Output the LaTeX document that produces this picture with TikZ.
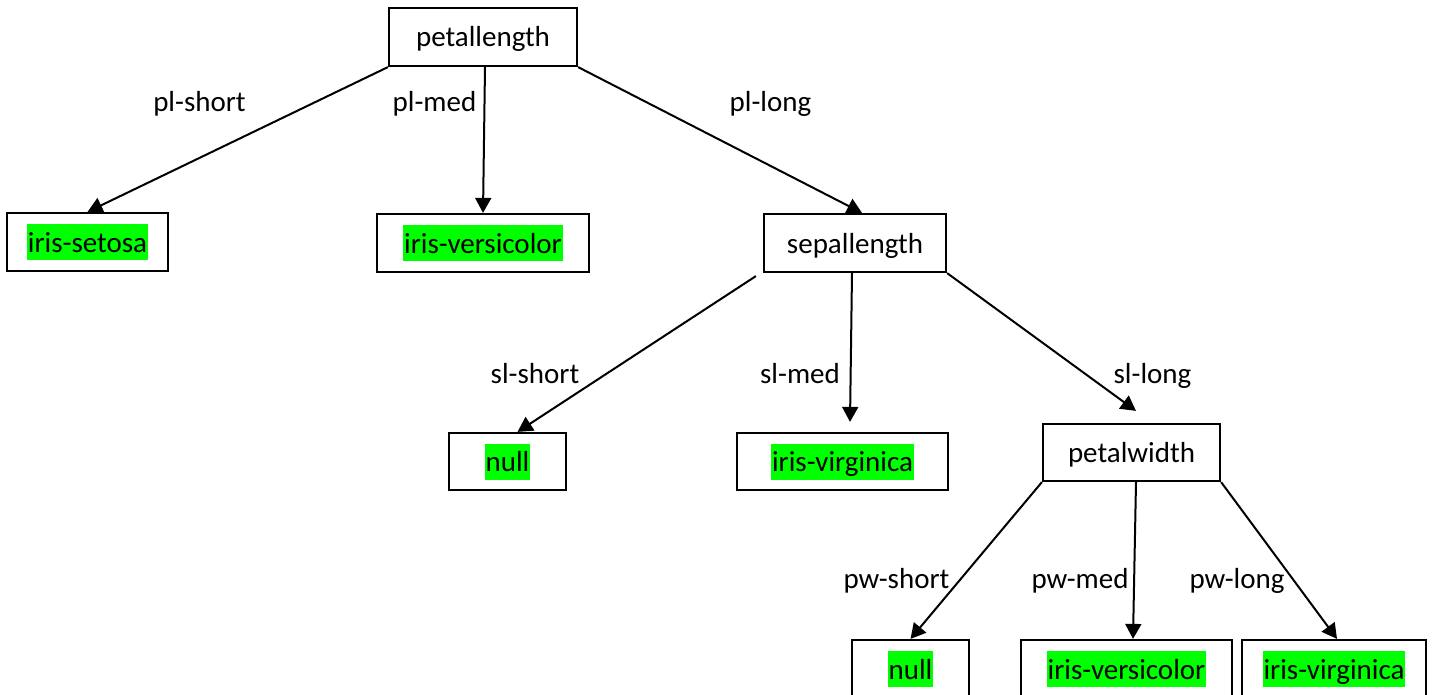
\documentclass[tikz,border=0pt]{standalone}
\usepackage{fontspec}
\setmainfont{Carlito}
\usepackage{xcolor}
\usetikzlibrary{arrows.meta}
\definecolor{hlgreen}{RGB}{0,255,0}
\newcommand{\nstrut}{\rule[-8pt]{0pt}{36pt}}
\newcommand{\hl}[1]{{\setlength{\fboxsep}{1pt}\colorbox{hlgreen}{\rule[-7pt]{0pt}{34pt}#1}}}

\begin{document}
\begin{tikzpicture}[x=1pt,y=-1pt,>={Triangle[length=15pt,width=16pt]},
    font=\fontsize{29pt}{34pt}\selectfont,
    box/.style={draw,line width=2.2pt,inner sep=0pt,minimum height=58pt},
    lbl/.style={anchor=base,inner sep=0pt},
    edge/.style={->,line width=2pt}]
        \useasboundingbox (0,0) rectangle (1435,695);

        % attribute and leaf boxes
        \node[box,minimum width=188pt] (pl) at (483,37) {\nstrut petallength};
        \node[box,minimum width=161pt] (set) at (87.5,242) {\hl{iris-setosa}};
        \node[box,minimum width=212pt] (vc1) at (483,243) {\hl{iris-versicolor}};
        \node[box,minimum width=182pt] (sep) at (855,243) {\nstrut sepallength};
        \node[box,minimum width=117pt,minimum height=57pt] (nul1) at (507.5,461.5) {\hl{null}};
        \node[box,minimum width=211pt,minimum height=57pt] (vir1) at (842.5,461.5) {\hl{iris-virginica}};
        \node[box,minimum width=177pt,minimum height=57pt] (pw) at (1131.5,452.5) {\nstrut petalwidth};
        \node[box,minimum width=117pt] (nul2) at (910.5,669) {\hl{null}};
        \node[box,minimum width=211pt] (vc2) at (1126.5,669) {\hl{iris-versicolor}};
        \node[box,minimum width=184pt] (vir2) at (1334,669) {\hl{iris-virginica}};

        % branches
        \draw[edge] (pl.south west) -- (set.north);
        \draw[edge] ([xshift=2pt]pl.south) -- (vc1.north);
        \draw[edge] (pl.south east) -- ([xshift=7pt]sep.north);
        \draw[edge] ([xshift=-7pt,yshift=-3pt]sep.south west) -- ([xshift=10pt]nul1.north);
        \draw[edge] ([xshift=-3pt]sep.south) -- ([xshift=7.5pt,yshift=10pt]vir1.north);
        \draw[edge] (sep.south east) -- ([xshift=4.5pt,yshift=12pt]pw.north);
        \draw[edge] (pw.south west) -- (nul2.north);
        \draw[edge] ([xshift=4.5pt]pw.south) -- ([xshift=6.5pt]vc2.north);
        \draw[edge] (pw.south east) -- ([xshift=3pt]vir2.north);

        % branch values
        \node[lbl] (plshort) at (199.5,112) {pl-short};
        \node[lbl] (plmed) at (434.5,112) {pl-med};
        \node[lbl] (pllong) at (770.5,112) {pl-long};
        \node[lbl] (slshort) at (535,383) {sl-short};
        \node[lbl] (slmed) at (800,383) {sl-med};
        \node[lbl] (sllong) at (1152.5,383) {sl-long};
        \node[lbl] (pwshort) at (896.5,588) {pw-short};
        \node[lbl] (pwmed) at (1080,588) {pw-med};
        \node[lbl] (pwlong) at (1237,588) {pw-long};
\end{tikzpicture}
\end{document}
